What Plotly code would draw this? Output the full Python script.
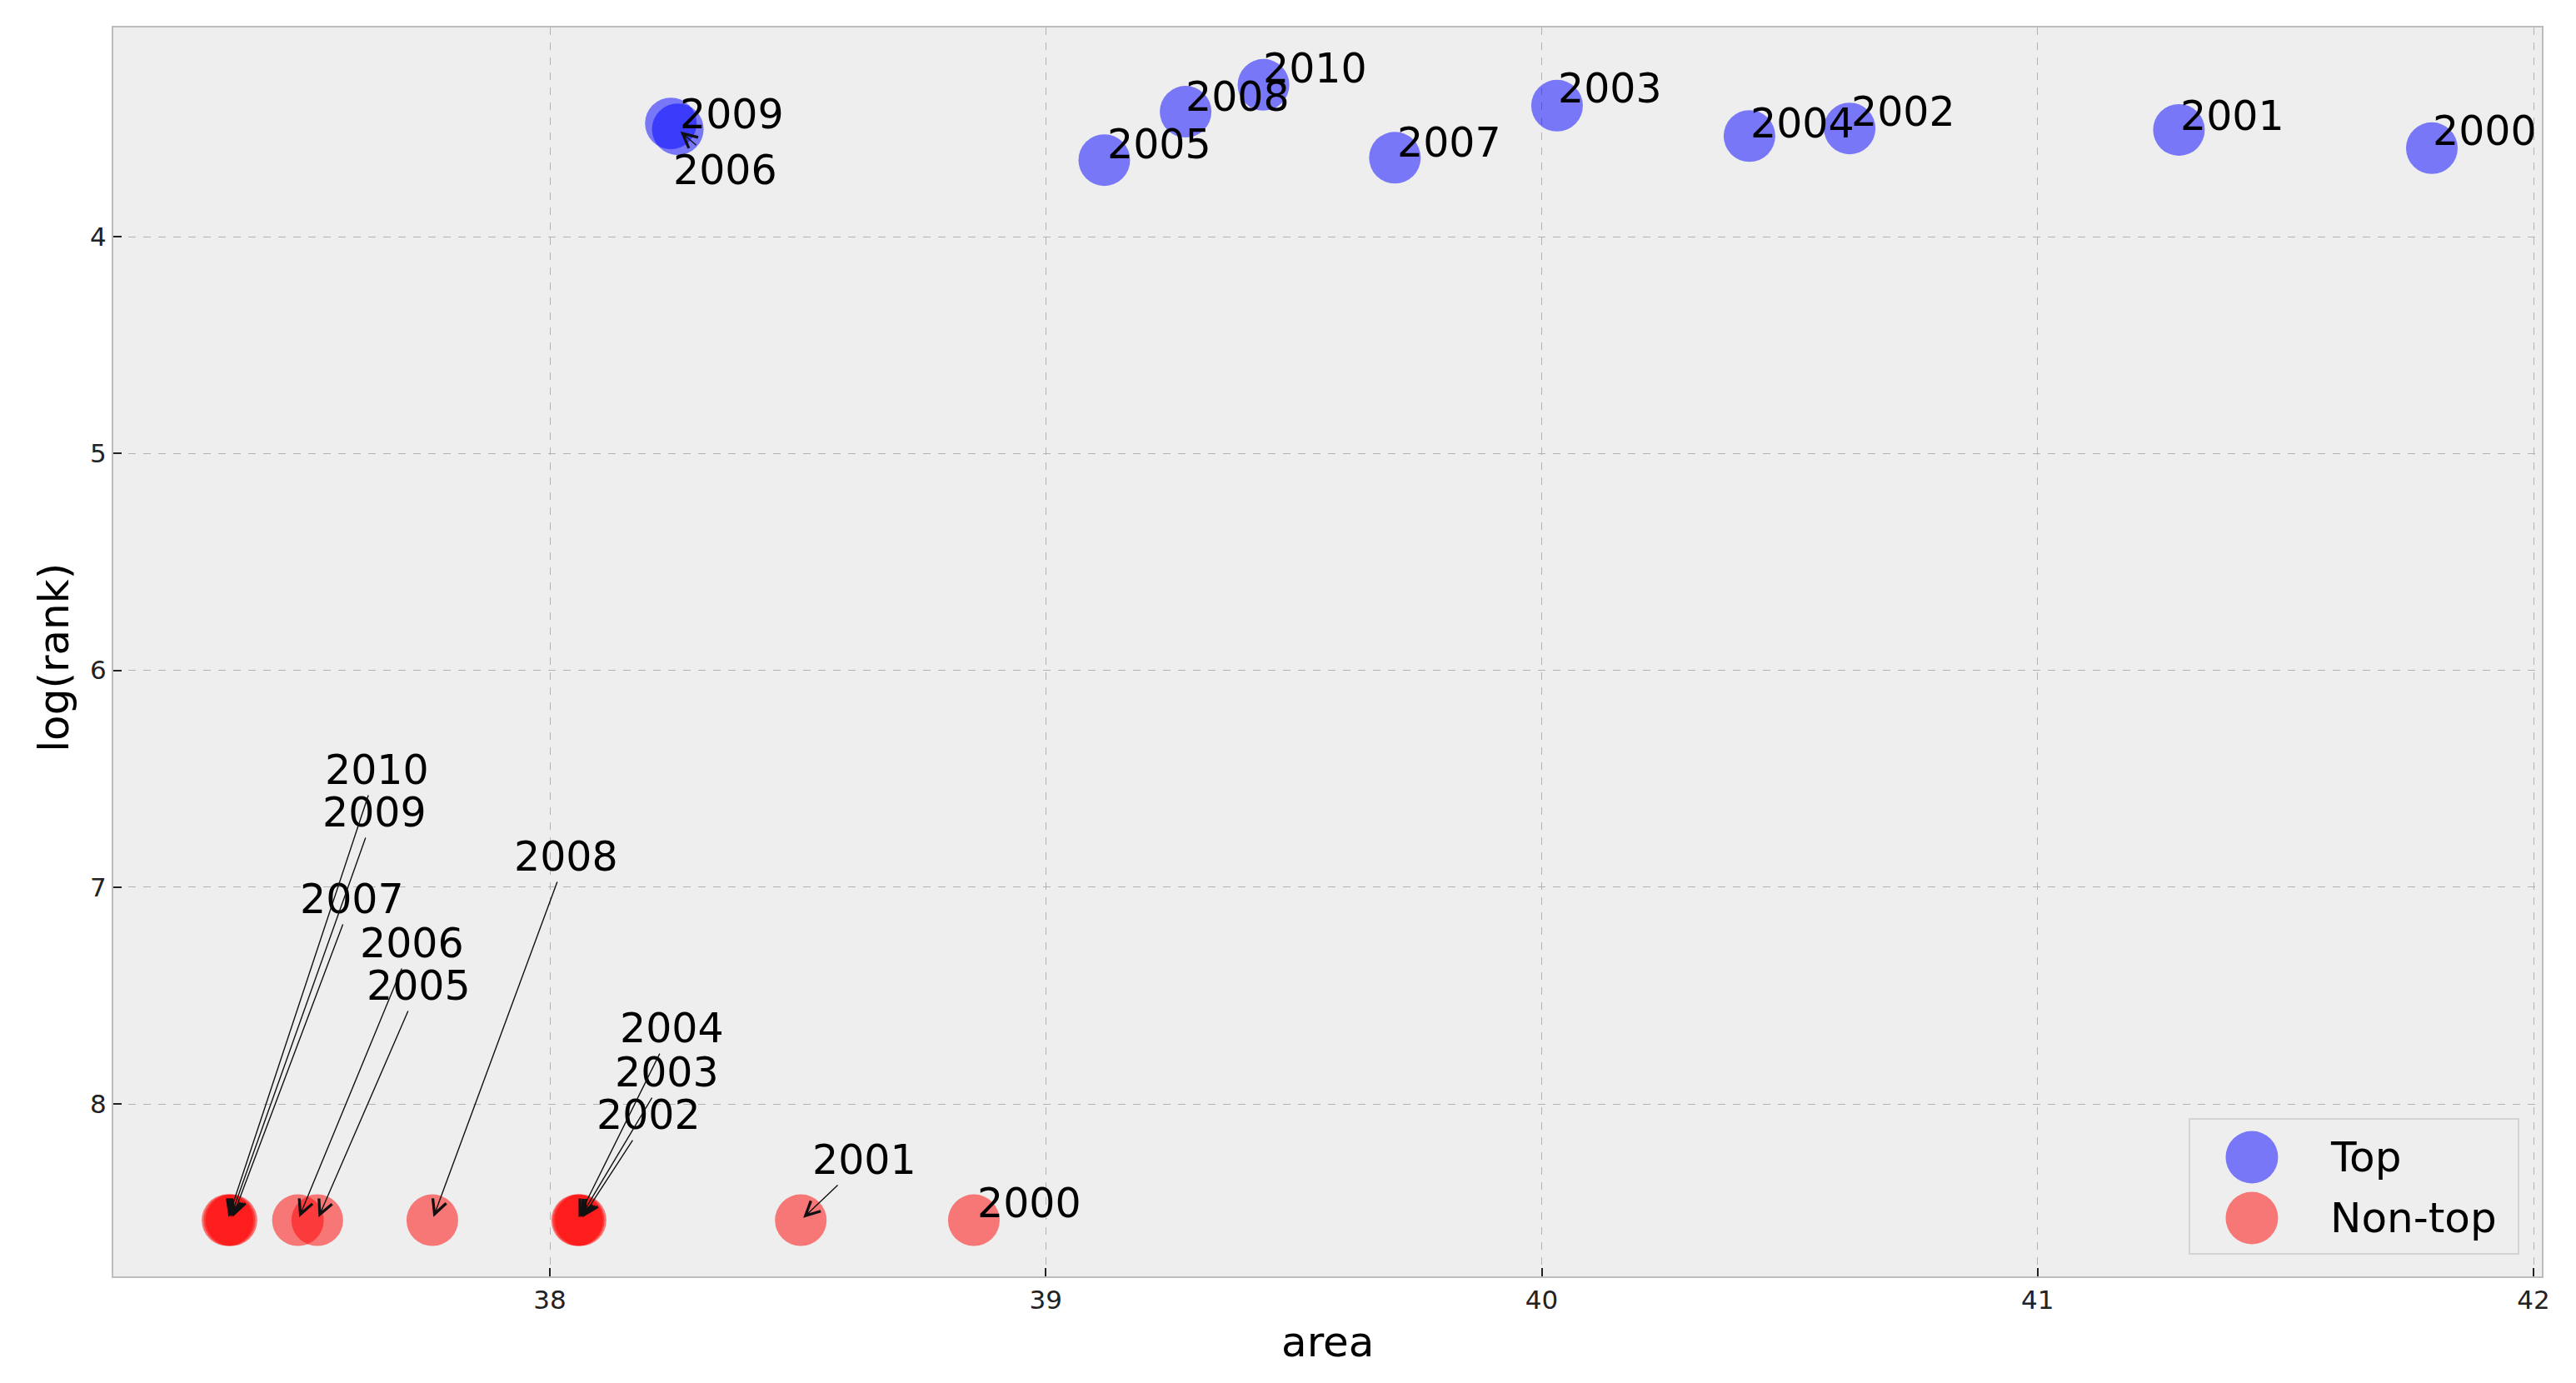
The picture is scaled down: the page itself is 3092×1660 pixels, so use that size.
import plotly.graph_objects as go

# --- data ---
years = [2000, 2001, 2002, 2003, 2004, 2005, 2006, 2007, 2008, 2009, 2010]

area_top = [41.795, 41.285, 40.621, 40.031, 40.419, 39.118, 38.258, 39.704, 39.282, 38.244, 39.439]
logrank_top = [3.592, 3.508, 3.501, 3.396, 3.536, 3.647, 3.505, 3.636, 3.424, 3.478, 3.300]

area_nontop = [38.855, 38.506, 38.062, 38.058, 38.055, 37.531, 37.492, 37.358, 37.763, 37.354, 37.350]
logrank_nontop = [8.536, 8.536, 8.536, 8.536, 8.536, 8.536, 8.536, 8.536, 8.536, 8.536, 8.536]

x_ticks = [38, 39, 40, 41, 42]
y_ticks = [4, 5, 6, 7, 8]

# label offsets (pixels from the point to the label centre)
top_dx = [64, 64, 64, 64, 64, 66, 57, 65, 62, 73, 62]
top_dy = [-20, -16, -20, -20, -15, -19, 49, -18, -18, -11, -19]
non_dx = [67, 76, 82, 106, 114, 122, 137, 145, 161, 174, 179]
non_dy = [-20, -72, -126, -177, -230, -281, -332, -385, -436, -489, -540]

FONT = "DejaVu Sans"
BLUE = "rgba(0,0,255,0.5)"
RED = "rgba(255,0,0,0.5)"

fig = go.Figure()

fig.add_trace(go.Scatter(
    x=area_top, y=logrank_top, mode="markers", name="Top",
    marker=dict(size=62, color=BLUE, line=dict(width=0)),
    showlegend=False,
))
fig.add_trace(go.Scatter(
    x=area_nontop, y=logrank_nontop, mode="markers", name="Non-top",
    marker=dict(size=62, color=RED, line=dict(width=0)),
    showlegend=False,
))

# year labels with arrows
def label(xs, ys, dxs, dys):
    for yr, x, y, dx, dy in zip(years, xs, ys, dxs, dys):
        fig.add_annotation(
            x=x, y=y, ax=dx, ay=dy, text=str(yr),
            showarrow=True, arrowhead=5, arrowsize=2.4, arrowwidth=1.4,
            arrowcolor="#111", standoff=4,
            font=dict(family=FONT, size=49, color="black"),
        )

label(area_top, logrank_top, top_dx, top_dy)
label(area_nontop, logrank_nontop, non_dx, non_dy)

# axis titles
fig.add_annotation(xref="paper", yref="paper", x=0.5, y=-0.0527,
                   text="area", showarrow=False, yanchor="middle",
                   font=dict(family=FONT, size=50, color="black"))
fig.add_annotation(xref="paper", yref="paper", x=-0.0244, y=0.4957,
                   text="log(rank)", showarrow=False, textangle=-90,
                   xanchor="center", yanchor="middle",
                   font=dict(family=FONT, size=50, color="black"))

# hand-drawn legend (plotly caps legend marker size)
fig.add_shape(type="rect", xref="paper", yref="paper",
              x0=0.8549, x1=0.9904, y0=0.018, y1=0.1261,
              line=dict(color="#d4d4d4", width=2), fillcolor="#eeeeee")
fig.add_shape(type="circle", xref="paper", yref="paper",
              x0=0.8698, x1=0.8914, y0=0.0744, y1=0.1164,
              line=dict(width=0), fillcolor=BLUE)
fig.add_shape(type="circle", xref="paper", yref="paper",
              x0=0.8698, x1=0.8914, y0=0.0257, y1=0.0677,
              line=dict(width=0), fillcolor=RED)
fig.add_annotation(xref="paper", yref="paper", x=0.9122, y=0.0954,
                   text="Top", showarrow=False, xanchor="left", yanchor="middle",
                   font=dict(family=FONT, size=50, color="black"))
fig.add_annotation(xref="paper", yref="paper", x=0.9122, y=0.0467,
                   text="Non-top", showarrow=False, xanchor="left", yanchor="middle",
                   font=dict(family=FONT, size=50, color="black"))

axis_common = dict(
    showgrid=True, gridcolor="#b2b2b2", gridwidth=1, griddash="dash",
    zeroline=False, showline=True, linecolor="#bcbcbc", linewidth=2, mirror=True,
    ticks="inside", ticklen=10, tickwidth=2, tickcolor="#222",
    tickfont=dict(family=FONT, size=31, color="#222"),
)

# margins account for the 8px default body margin of the page
fig.update_layout(
    width=3092, height=1660,
    margin=dict(l=128, r=49, t=25, b=136),
    paper_bgcolor="white", plot_bgcolor="#eeeeee",
    font=dict(family=FONT),
    xaxis=dict(range=[37.1197, 42.0168], tickvals=x_ticks, **axis_common),
    yaxis=dict(range=[8.795, 3.0355], tickvals=y_ticks, **axis_common),
    showlegend=False,
)

fig.write_html("out.html")
